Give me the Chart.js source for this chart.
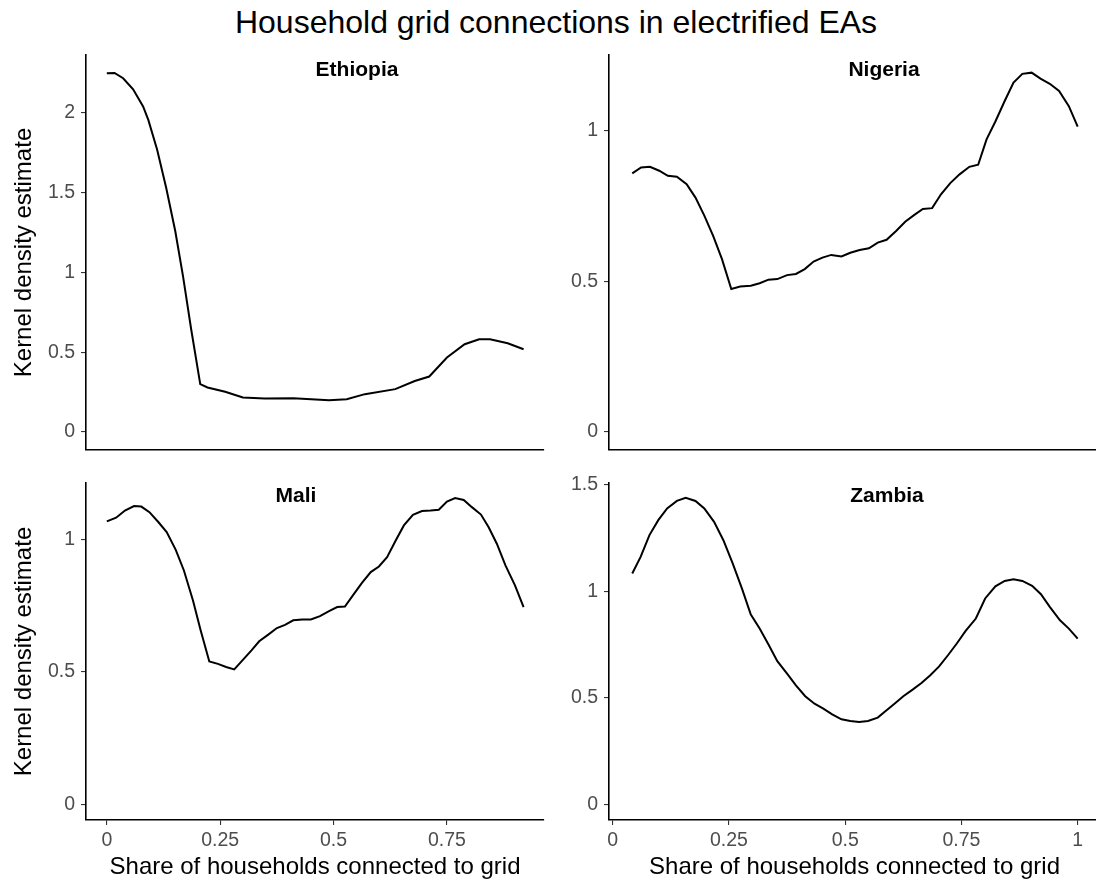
<!DOCTYPE html>
<html>
<head>
<meta charset="utf-8">
<script src="https://cdn.jsdelivr.net/npm/chart.js@4.4.1/dist/chart.umd.min.js"></script>
<style>
  body { margin: 0; width: 1096px; height: 887px; overflow: hidden; background: #fff; position: relative;
         font-family: "Liberation Sans", Arial, sans-serif; }
  #title { position: absolute; left: 0; top: 6px; width: 1112px; text-align: center;
           font-size: 32px; line-height: 32px; color: #000; }
  canvas { position: absolute; }
</style>
</head>
<body>
<div id="title">Household grid connections in electrified EAs</div>
<canvas id="ethiopia"></canvas>
<canvas id="nigeria"></canvas>
<canvas id="mali"></canvas>
<canvas id="zambia"></canvas>
<script>
'use strict' ;

// kernel density curves
const ethiopiaX = [0, 0.017, 0.036, 0.058, 0.080, 0.0915, 0.111, 0.131, 0.151, 0.168, 0.186, 0.206, 0.222, 0.261, 0.300,
  0.348, 0.411, 0.490, 0.529, 0.569, 0.636, 0.679, 0.711, 0.750, 0.789, 0.821, 0.845, 0.884, 0.919] ;
const ethiopiaY = [2.248, 2.250, 2.217, 2.148, 2.040, 1.956, 1.769, 1.529, 1.258, 0.977, 0.644, 0.300, 0.279, 0.252, 0.217,
  0.210, 0.2125, 0.200, 0.206, 0.2375, 0.269, 0.320, 0.348, 0.467, 0.550, 0.581, 0.581, 0.556, 0.519] ;

const nigeriaX = [0.042, 0.061, 0.080, 0.100, 0.1185, 0.138, 0.159, 0.178, 0.197, 0.216, 0.235, 0.255, 0.274, 0.297, 0.316,
  0.335, 0.354, 0.375, 0.394, 0.413, 0.432, 0.451, 0.470, 0.492, 0.511, 0.531, 0.551, 0.570, 0.589, 0.610, 0.629, 0.648,
  0.667, 0.687, 0.706, 0.726, 0.746, 0.767, 0.786, 0.804, 0.823, 0.843, 0.862, 0.881, 0.901, 0.920, 0.940, 0.960, 0.981, 1.0] ;
const nigeriaY = [0.857, 0.877, 0.879, 0.866, 0.849, 0.846, 0.821, 0.777, 0.717, 0.650, 0.573, 0.474, 0.482, 0.485, 0.493,
  0.505, 0.507, 0.520, 0.524, 0.540, 0.565, 0.578, 0.587, 0.582, 0.594, 0.603, 0.609, 0.628, 0.637, 0.667, 0.697, 0.719,
  0.739, 0.742, 0.788, 0.825, 0.854, 0.879, 0.886, 0.970, 1.029, 1.097, 1.158, 1.187, 1.191, 1.171, 1.154, 1.130, 1.080, 1.012] ;

const maliX = [0, 0.0205, 0.040, 0.060, 0.076, 0.094, 0.114, 0.132, 0.152, 0.170, 0.190, 0.207, 0.226, 0.245, 0.263, 0.281,
  0.300, 0.319, 0.336, 0.356, 0.375, 0.393, 0.411, 0.431, 0.450, 0.470, 0.490, 0.508, 0.525, 0.545, 0.563, 0.582, 0.600,
  0.618, 0.637, 0.655, 0.675, 0.695, 0.714, 0.732, 0.750, 0.768, 0.787, 0.805, 0.825, 0.842, 0.860, 0.879, 0.900, 0.919] ;
const maliY = [1.068, 1.082, 1.109, 1.126, 1.124, 1.103, 1.065, 1.028, 0.961, 0.883, 0.770, 0.657, 0.540, 0.531, 0.519, 0.510,
  0.546, 0.582, 0.616, 0.641, 0.666, 0.678, 0.695, 0.698, 0.698, 0.711, 0.730, 0.745, 0.747, 0.795, 0.837, 0.877, 0.898,
  0.933, 0.996, 1.053, 1.093, 1.107, 1.109, 1.112, 1.143, 1.156, 1.149, 1.122, 1.094, 1.046, 0.984, 0.902, 0.827, 0.745] ;

const zambiaX = [0.042, 0.060, 0.079, 0.098, 0.117, 0.138, 0.157, 0.178, 0.197, 0.218, 0.238, 0.258, 0.278, 0.297, 0.316,
  0.335, 0.354, 0.375, 0.394, 0.414, 0.434, 0.453, 0.472, 0.492, 0.511, 0.530, 0.549, 0.570, 0.587, 0.606, 0.625, 0.645,
  0.664, 0.683, 0.702, 0.721, 0.740, 0.759, 0.781, 0.801, 0.823, 0.843, 0.862, 0.881, 0.902, 0.921, 0.940, 0.962, 0.981, 1.0] ;
const zambiaY = [1.083, 1.161, 1.263, 1.333, 1.388, 1.423, 1.4375, 1.423, 1.388, 1.325, 1.239, 1.130, 1.0125, 0.891, 0.825,
  0.750, 0.672, 0.614, 0.559, 0.508, 0.473, 0.450, 0.423, 0.400, 0.392, 0.3875, 0.392, 0.408, 0.439, 0.473, 0.508, 0.539,
  0.570, 0.606, 0.648, 0.700, 0.755, 0.814, 0.872, 0.966, 1.023, 1.048, 1.056, 1.048, 1.025, 0.986, 0.927, 0.864, 0.825, 0.778] ;

const leftTicksX = [0, 0.25, 0.5, 0.75] ;
const rightTicksX = [0, 0.25, 0.5, 0.75, 1] ;
const ethiopiaTicksY = [0, 0.5, 1, 1.5, 2] ;
const nigeriaTicksY = [0, 0.5, 1] ;
const maliTicksY = [0, 0.5, 1] ;
const zambiaTicksY = [0, 0.5, 1, 1.5] ;

const xTitle = 'Share of households connected to grid' ;
const yTitle = 'Kernel density estimate' ;

Chart.defaults.font.family = '"Liberation Sans", Arial, sans-serif' ;

const stripLabel = {
  id: 'stripLabel',
  afterDraw (chart, args, opts)
  {
    const ctx = chart.ctx ;
    const a = chart.chartArea ;
    ctx.save() ;
    ctx.font = 'bold 21px "Liberation Sans", Arial, sans-serif' ;
    ctx.fillStyle = '#000' ;
    ctx.textAlign = 'center' ;
    ctx.textBaseline = 'middle' ;
    ctx.fillText(opts.text, a.left + opts.dx, a.top + opts.dy) ;
    ctx.restore() ;
  }
} ;

function panel (id, name, xs, ys, c)
{
  const cv = document.getElementById(id) ;
  cv.width = c.w ;
  cv.height = c.h ;
  cv.style.left = c.left + 'px' ;
  cv.style.top = c.top + 'px' ;

  let pts = [] ;
  for (let i = 0 ; i < xs.length ; i++) { pts.push({x: xs[i], y: ys[i]}) ; }

  new Chart(cv, {
    type: 'line',
    data: {
      datasets: [{
        data: pts,
        borderColor: '#000',
        borderWidth: 2,
        pointRadius: 0,
        tension: 0,
        fill: false
      }]
    },
    options: {
      responsive: false,
      animation: false,
      events: [],
      layout: { padding: { top: 15, right: 2, left: 0, bottom: 0 } },
      plugins: {
        legend: { display: false },
        tooltip: { enabled: false },
        stripLabel: { text: name, dx: c.dx, dy: c.dy }
      },
      scales: {
        x: {
          type: 'linear',
          min: c.xr[0],
          max: c.xr[1],
          afterBuildTicks: s => { s.ticks = c.xt.map(v => ({value: v})) ; },
          afterFit: s => { s.height = c.xh ; s.paddingLeft = 0 ; s.paddingRight = 0 ; },
          ticks: { display: c.showX, padding: 4, color: '#4D4D4D', font: { size: 19.5 },
            maxRotation: 0, autoSkip: false, callback: v => String(v) },
          grid: { display: c.showX, drawOnChartArea: false, drawTicks: true, tickLength: 5,
            color: '#333', lineWidth: 1.1 },
          border: { display: true, color: '#000', width: 1.6 },
          title: { display: c.showX, text: xTitle, color: '#000', font: { size: 24 },
            padding: { top: 0, bottom: 5 } }
        },
        y: {
          type: 'linear',
          min: c.yr[0],
          max: c.yr[1],
          afterBuildTicks: s => { s.ticks = c.yt.map(v => ({value: v})) ; },
          afterFit: s => { s.width = c.yw ; s.paddingTop = 0 ; s.paddingBottom = 0 ; },
          ticks: { padding: 6, color: '#4D4D4D', font: { size: 19.5 }, autoSkip: false,
            callback: v => String(v) },
          grid: { display: true, drawOnChartArea: false, drawTicks: true, tickLength: 5,
            color: '#333', lineWidth: 1.1 },
          border: { display: true, color: '#000', width: 1.6 },
          title: { display: c.showY, text: yTitle, color: '#000', font: { size: 24 },
            padding: { top: 10, bottom: 0 } }
        }
      }
    },
    plugins: [stripLabel]
  }) ;
}

panel('ethiopia', 'Ethiopia', ethiopiaX, ethiopiaY, {
  left: 0, top: 40, w: 546, h: 420, yw: 86, xh: 10, showX: false, showY: true,
  xr: [-0.0459, 0.964], yr: [-0.1125, 2.3625], xt: leftTicksX, yt: ethiopiaTicksY, dx: 271, dy: 15
}) ;
panel('nigeria', 'Nigeria', nigeriaX, nigeriaY, {
  left: 540, top: 40, w: 562, h: 420, yw: 69, xh: 10, showX: false, showY: false,
  xr: [-0.008, 1.048], yr: [-0.0595, 1.2495], xt: rightTicksX, yt: nigeriaTicksY, dx: 275, dy: 15
}) ;
panel('mali', 'Mali', maliX, maliY, {
  left: 0, top: 468, w: 546, h: 419, yw: 86, xh: 67, showX: true, showY: true,
  xr: [-0.0459, 0.964], yr: [-0.058, 1.213], xt: leftTicksX, yt: maliTicksY, dx: 210, dy: 13
}) ;
panel('zambia', 'Zambia', zambiaX, zambiaY, {
  left: 540, top: 468, w: 562, h: 419, yw: 69, xh: 67, showX: true, showY: false,
  xr: [-0.008, 1.048], yr: [-0.0718, 1.507], xt: rightTicksX, yt: zambiaTicksY, dx: 278, dy: 13
}) ;
</script>
</body>
</html>
